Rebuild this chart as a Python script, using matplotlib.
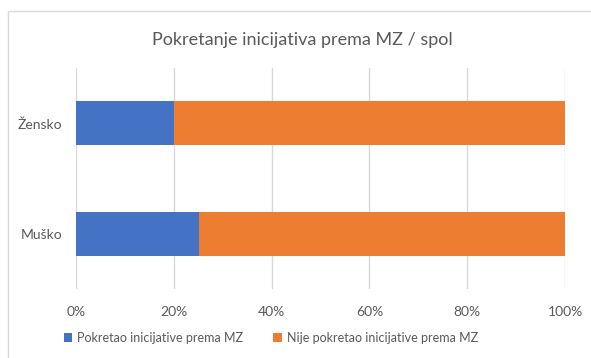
import matplotlib.pyplot as plt
from matplotlib.patches import Rectangle
from matplotlib.ticker import PercentFormatter

plt.rcParams["font.family"] = ["Lato", "DejaVu Sans"]

categories = ["Muško", "Žensko"]
pokretao = [25.2, 20.1]
nije_pokretao = [74.8, 79.9]
series_names = ["Pokretao inicijative prema MZ", "Nije pokretao inicijative prema MZ"]
colors = ["#4472C4", "#ED7D31"]
text_color = "#595959"

fig = plt.figure(figsize=(5.91, 3.58), dpi=100)
ax = fig.add_axes([0.1286, 0.1927, 0.8274, 0.6173])

# chart frame
fig.patches.append(Rectangle((8 / 591, -0.05), 1.0, 1 - 11 / 358 + 0.05,
                             transform=fig.transFigure, fill=False,
                             edgecolor="#D9D9D9", linewidth=1.0))

ypos = range(len(categories))
ax.barh(ypos, pokretao, height=0.4, color=colors[0], label=series_names[0], zorder=3)
ax.barh(ypos, nije_pokretao, height=0.4, left=pokretao, color=colors[1],
        label=series_names[1], zorder=3)

ax.set_xlim(0, 100)
ax.set_ylim(-0.5, 1.5)
ax.set_xticks(range(0, 101, 20))
ax.xaxis.set_major_formatter(PercentFormatter(decimals=0))
ax.set_yticks(list(ypos))
ax.set_yticklabels(categories)
ax.grid(axis="x", color="#D9D9D9", linewidth=1.0, zorder=0)
for side in ax.spines.values():
    side.set_visible(False)
ax.tick_params(length=0, labelsize=10, labelcolor=text_color)
ax.tick_params(axis="x", pad=12)
ax.tick_params(axis="y", pad=10)

fig.text(302 / 591, 1 - 40 / 358, "Pokretanje inicijativa prema MZ / spol", ha="center",
         va="center", fontsize=13, color=text_color)

fig.legend(loc="center", bbox_to_anchor=(271 / 591, 1 - 338 / 358), ncol=2, frameon=False,
           fontsize=9, labelcolor=text_color, handlelength=0.7, handleheight=0.7,
           handletextpad=0.4, columnspacing=2.4)

fig.savefig("out.png", dpi=100)
